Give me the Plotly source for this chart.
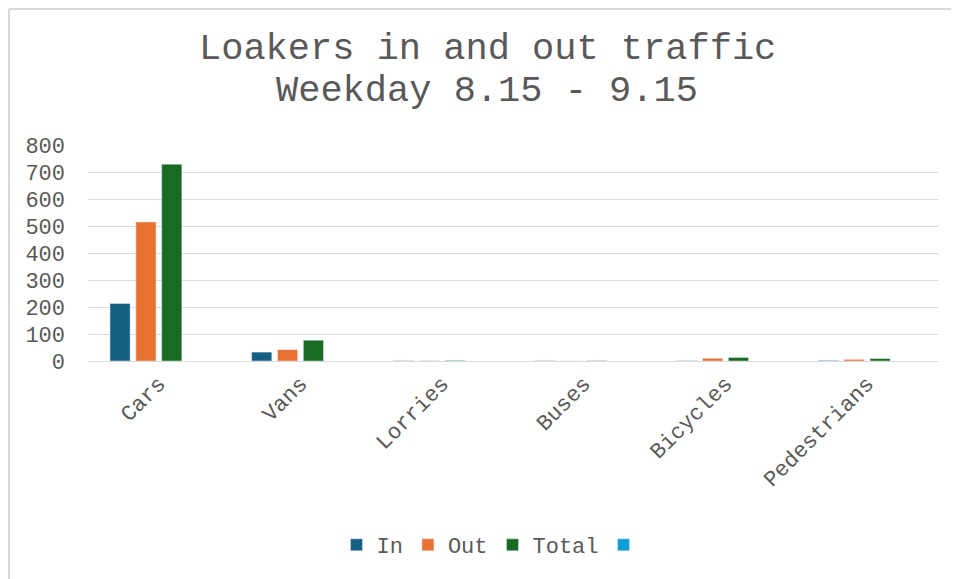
import plotly.graph_objects as go

categories = ["Cars", "Vans", "Lorries", "Buses", "Bicycles", "Pedestrians"]
in_vals = [213, 33, 1, 1, 1, 2]
out_vals = [515, 42, 1, 0, 10, 6]
total_vals = [729, 77, 2, 1, 13, 9]
blank_vals = [None] * 6
y_ticks = [0, 100, 200, 300, 400, 500, 600, 700, 800]
title_lines = ["Loakers in and out traffic", "Weekday 8.15 - 9.15"]

FONT = "Liberation Mono, Courier New, monospace"
GREY = "#595959"

# page body has an 8px margin; work in page coordinates and convert
OFF = 8
W, H = 959 - OFF, 579 - OFF
PL, PR, PT, PB = 88, 938, 145, 361  # plot area in page pixels
L, R, T, B = PL - OFF, W - (PR - OFF), PT - OFF, H - (PB - OFF)
pw, ph = W - L - R, H - T - B


def px_x(p):
    return (p - PL) / pw


def px_y(p):
    return (PB - p) / ph


fig = go.Figure()
fig.add_bar(x=categories, y=in_vals, name="In", marker_color="#156082")
fig.add_bar(x=categories, y=out_vals, name="Out", marker_color="#E97132")
fig.add_bar(x=categories, y=total_vals, name="Total", marker_color="#196B24")
fig.add_bar(x=categories, y=blank_vals, name="", marker_color="#0F9ED5")

annotations = [
    dict(text=t, x=px_x(487), y=px_y(yc), xref="paper", yref="paper",
         xanchor="center", yanchor="middle", showarrow=False,
         font=dict(family=FONT, size=37, color=GREY))
    for t, yc in zip(title_lines, [49, 91])
]

fig.update_layout(
    width=W, height=H,
    margin=dict(l=L, r=R, t=T, b=B),
    paper_bgcolor="white", plot_bgcolor="white",
    barmode="group", bargap=0.27, bargroupgap=0.22,
    font=dict(family=FONT, color=GREY, size=22),
    annotations=annotations,
    showlegend=True,
    legend=dict(orientation="h", x=px_x(493), xanchor="center",
                y=px_y(545), yanchor="middle",
                font=dict(family=FONT, size=22, color=GREY),
                itemwidth=30, tracegroupgap=0, traceorder="normal"),
    xaxis=dict(showline=True, linecolor="#D9D9D9", linewidth=1,
               tickangle=-45, ticks="", tickfont=dict(size=22, color=GREY)),
    yaxis=dict(range=[0, 800], tickvals=y_ticks, showgrid=True,
               gridcolor="#D9D9D9", gridwidth=1, zeroline=False,
               showline=False, ticks="", ticklabelstandoff=22,
               tickfont=dict(size=22, color=GREY)),
    shapes=[
        dict(type="line", xref="paper", yref="paper",
             x0=px_x(OFF + 1), x1=px_x(OFF + 1), y0=px_y(580), y1=px_y(OFF + 1),
             line=dict(color="#D9D9D9", width=2)),
        dict(type="line", xref="paper", yref="paper",
             x0=px_x(OFF + 1), x1=px_x(960), y0=px_y(OFF + 1), y1=px_y(OFF + 1),
             line=dict(color="#D9D9D9", width=2)),
    ],
)

fig.write_html("out.html")
